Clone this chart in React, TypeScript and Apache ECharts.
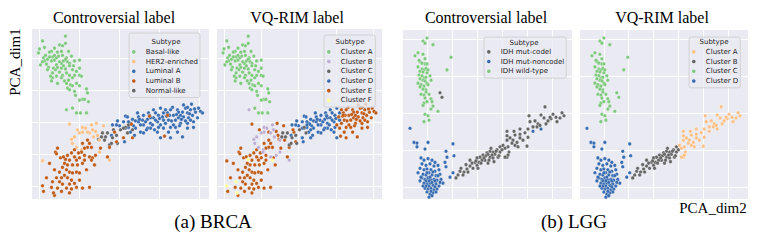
import React, { useEffect, useRef } from 'react';
import * as echarts from 'echarts';

type Pt = [number, number, number]; // [PCA_dim2, PCA_dim1, VQ-RIM cluster index]

// ---------------- BRCA ----------------
const brcaControversialLabels = ['Basal-like', 'HER2-enriched', 'Luminal A', 'Luminal B', 'Normal-like'];
const brcaVqLabels = ['Cluster A', 'Cluster B', 'Cluster C', 'Cluster D', 'Cluster E', 'Cluster F'];

const brcaBasal: Pt[] = [
  [-7.7, 10.2, 0], [-5.4, 10.8, 0], [-5.4, 9.9, 0], [-6.0, 9.7, 0], [-5.7, 9.6, 0], [-5.8, 8.9, 0], [-5.1, 8.9, 0],
  [-8.1, 8.7, 0], [-6.8, 8.9, 0], [-7.0, 8.8, 0], [-7.6, 8.1, 0], [-7.2, 7.9, 0], [-6.7, 8.2, 0], [-6.3, 8.1, 0],
  [-6.1, 8.3, 0], [-5.7, 8.4, 0], [-5.3, 8.1, 0], [-4.8, 8.3, 0], [-4.0, 7.8, 0], [-7.9, 7.2, 0], [-7.5, 7.7, 0],
  [-7.3, 7.3, 0], [-6.8, 7.7, 0], [-6.5, 7.8, 0], [-6.3, 7.2, 0], [-5.8, 7.4, 0], [-5.6, 7.7, 0], [-5.2, 7.6, 0],
  [-5.0, 7.4, 0], [-4.5, 7.7, 0], [-6.6, 6.8, 0], [-6.2, 6.9, 0], [-5.8, 6.8, 0], [-5.4, 6.7, 0], [-4.7, 6.6, 0],
  [-4.3, 6.4, 0], [-4.0, 6.8, 0], [-6.7, 6.2, 0], [-6.0, 6.3, 0], [-5.7, 5.9, 0], [-5.3, 6.2, 0], [-5.0, 5.9, 0],
  [-4.5, 5.9, 0], [-4.0, 5.9, 0], [-3.8, 5.8, 0], [-6.7, 5.6, 0], [-6.3, 5.8, 0], [-5.8, 5.6, 0], [-5.5, 5.2, 0],
  [-5.1, 5.3, 0], [-4.7, 5.6, 0], [-6.8, 5.2, 0], [-6.2, 4.9, 0], [-5.3, 4.9, 0], [-4.9, 4.7, 0], [-4.7, 4.6, 0],
  [-5.2, 4.3, 0], [-4.3, 4.9, 0], [-4.0, 4.6, 0], [-5.0, 4.1, 0], [-4.5, 3.9, 0], [-3.3, 4.2, 0], [-3.2, 3.7, 0],
  [-3.7, 2.9, 0], [-3.1, 2.6, 0], [-4.7, 1.8, 0], [-5.3, 1.6, 1], [-4.4, 3.4, 0], [-4.3, 1.2, 0], [-3.9, 1.2, 0],
  [-3.3, 1.2, 0], [-4.0, 2.8, 0], [-3.5, 2.9, 0], [-7.4, 8.4, 0], [-7.0, 8.2, 0], [-6.5, 8.4, 0], [-7.7, 7.6, 0],
  [-7.1, 6.9, 0], [-6.4, 6.6, 0], [-6.0, 7.6, 0], [-5.6, 7.1, 0], [-5.4, 7.9, 0], [-6.2, 8.8, 0], [-6.5, 9.3, 0],
  [-5.0, 7.1, 0], [-4.6, 7.1, 0], [-7.2, 6.6, 0], [-6.9, 5.8, 0], [-8.0, 9.2, 0], [-7.5, 9.4, 0],
];

const brcaHer2: Pt[] = [
  [-5.0, -0.2, 4], [-3.7, -0.6, 1], [-2.8, -0.3, 1], [-2.3, -0.1, 4], [-4.0, -1.3, 1], [-3.7, -1.2, 1],
  [-4.8, -2.1, 1], [-4.7, -2.6, 1], [-2.7, -0.9, 1], [-3.0, -1.3, 1], [-1.0, -4.7, 1], [-7.7, -4.8, 4],
  [-4.5, -1.8, 1], [-3.2, -1.2, 4], [-3.8, -3.4, 1], [-4.3, -3.1, 1], [-3.4, -0.7, 1], [-2.4, -1.1, 4],
  [-2.0, -2.2, 1], [-2.6, -1.8, 1], [-4.2, -0.9, 4], [-1.6, -0.4, 4], [-2.0, -3.7, 1], [-2.2, -1.6, 4],
];

const brcaLumA: Pt[] = [
  [0.6, 0.8, 3], [1.1, -0.1, 3], [1.6, 0.2, 3], [1.9, 0.1, 3], [2.3, 0.3, 3], [2.4, -0.3, 3], [2.8, 0.4, 3],
  [3.1, -0.1, 3], [3.4, 0.6, 3], [3.8, 0.1, 3], [3.9, 0.9, 3], [4.1, -0.3, 4], [4.4, 0.3, 3], [4.8, 1.2, 4],
  [4.9, 0.3, 4], [5.1, -0.6, 4], [5.4, 0.9, 4], [5.8, 1.6, 4], [5.9, 0.6, 4], [6.3, 1.3, 4], [6.4, 0.7, 4],
  [6.6, 1.8, 4], [6.8, 1.2, 4], [6.9, 0.6, 4], [7.1, 1.6, 4], [7.3, 0.9, 4], [7.6, 1.3, 4], [8.1, 1.4, 4],
  [6.8, -0.7, 4], [5.8, -1.2, 4], [5.1, -1.9, 4], [4.9, -1.2, 4], [3.8, -1.2, 3], [3.1, -0.7, 3], [2.1, -1.2, 3],
  [1.6, -0.7, 3], [1.1, -1.2, 3], [0.6, -0.7, 3], [0.0, -0.4, 3], [0.4, 0.1, 3], [-0.3, -0.3, 3], [-0.7, -0.3, 3],
  [-0.8, -1.6, 3], [0.5, -2.4, 3], [2.4, -1.3, 3], [2.8, -0.7, 3], [3.3, -0.3, 3], [4.4, -0.7, 4], [5.6, -0.6, 4],
  [6.1, -0.1, 4], [7.4, 0.1, 4], [7.8, 0.6, 4], [8.3, 1.2, 4], [3.4, 1.6, 3], [2.9, 1.2, 3], [4.1, 1.8, 3],
  [2.4, 0.9, 3], [1.9, 0.7, 3], [1.3, 0.4, 3], [0.9, 0.1, 3], [4.6, 1.6, 4], [5.3, 1.9, 4], [6.1, 0.9, 4],
  [6.8, -0.1, 4], [4.1, -1.9, 3], [2.6, 0.1, 3], [3.6, 0.3, 3], [4.3, 0.7, 4], [5.2, 0.2, 4], [5.6, 0.3, 4],
  [6.6, 0.2, 4], [7.1, 0.3, 4], [7.5, 1.7, 4], [7.9, 1.8, 4], [7.2, 2.3, 4], [6.4, 2.2, 4], [5.9, 1.3, 4],
  [5.4, -0.3, 4], [4.6, -0.1, 4], [3.9, -0.6, 3], [3.1, 0.6, 3], [2.1, -0.3, 3], [1.8, 1.2, 3], [0.9, -0.6, 3],
  [-0.2, 0.2, 3], [0.8, 0.7, 3], [6.3, -1.8, 4], [7.4, -0.6, 4], [6.8, 1.9, 4], [3.6, 1.2, 3], [4.4, 1.2, 3],
  [5.1, 1.6, 4], [1.4, -0.4, 3], [2.7, -0.9, 3], [3.5, -0.9, 3], [4.7, 0.8, 4], [5.7, 1.0, 4], [6.2, 0.4, 4],
  [7.0, 1.1, 4], [3.0, 0.9, 3], [2.0, 0.4, 3], [4.0, 0.5, 3], [5.0, 0.9, 4], [6.0, -0.4, 4], [1.5, -1.6, 3],
];

const brcaLumB: Pt[] = [
  [-3.0, -2.6, 4], [-3.2, -3.1, 4], [-3.5, -3.2, 4], [-3.8, -3.7, 1], [-4.1, -3.8, 4], [-3.5, -4.1, 4],
  [-3.0, -4.3, 1], [-2.7, -4.4, 4], [-6.4, -3.7, 4], [-6.3, -3.9, 4], [-5.2, -4.1, 4], [-4.8, -3.8, 4],
  [-4.5, -4.3, 4], [-4.3, -4.7, 4], [-5.0, -4.7, 4], [-5.5, -5.1, 4], [-5.7, -5.6, 4], [-5.2, -5.3, 4],
  [-4.7, -5.3, 4], [-4.2, -5.3, 4], [-3.7, -5.1, 4], [-3.5, -4.7, 4], [-7.0, -5.1, 4], [-6.5, -5.9, 4],
  [-6.0, -6.2, 4], [-5.3, -5.9, 4], [-5.0, -6.2, 4], [-4.7, -6.3, 4], [-4.3, -6.2, 4], [-4.0, -6.3, 4],
  [-5.5, -6.6, 4], [-5.8, -6.9, 4], [-5.2, -6.9, 4], [-4.8, -7.2, 4], [-6.3, -6.9, 4], [-6.7, -7.4, 5],
  [-6.0, -7.4, 4], [-5.7, -7.7, 4], [-5.0, -7.7, 4], [-4.5, -7.6, 4], [-6.8, -8.1, 4], [-6.2, -8.2, 4],
  [-5.3, -8.2, 4], [-4.8, -8.3, 4], [-7.6, -8.6, 4], [-7.7, -7.9, 5], [-6.5, -9.1, 4], [-5.8, -8.6, 4],
  [-3.7, -8.2, 4], [-4.0, -7.2, 4], [-3.0, -8.1, 4], [-6.6, -8.8, 5], [-5.0, -8.8, 4], [-4.3, -8.1, 4],
  [-6.2, -3.2, 4], [-5.9, -4.4, 4], [-3.7, -2.6, 4], [-3.2, -2.2, 4], [-2.8, -3.1, 4], [-2.4, -4.1, 1],
  [-5.4, -4.6, 5], [-2.8, -4.7, 5], [-1.2, -4.3, 4], [-1.0, -3.1, 4], [-0.3, -2.4, 4], [3.0, 0.8, 3],
  [4.8, 0.9, 4], [4.5, -1.7, 4], [1.3, -1.9, 3], [-0.5, -1.2, 4], [0.4, -1.9, 3], [1.2, -0.2, 3],
  [-7.3, -6.9, 4], [-5.6, -4.3, 4], [-4.5, -3.4, 4], [-4.0, -4.4, 4], [-3.3, -5.9, 4], [-2.5, -5.3, 4],
  [-1.9, -3.2, 4],
];

const brcaNormal: Pt[] = [
  [-1.7, -1.3, 2], [-1.4, -1.8, 2], [-1.2, -1.3, 2], [-0.7, -1.9, 2], [-0.3, -1.6, 2], [-0.2, -2.6, 2],
  [0.6, -0.6, 2], [0.9, -0.3, 3], [-2.1, -2.1, 4], [-1.0, -2.8, 2], [-0.6, -0.9, 4], [0.8, -1.3, 2],
  [1.3, -0.9, 3], [-1.8, -1.8, 2], [-1.5, -2.2, 4], [-0.8, -2.6, 2], [0.1, -0.9, 2], [0.4, -0.7, 3],
];

// ---------------- LGG ----------------
const lggControversialLabels = ['IDH mut-codel', 'IDH mut-noncodel', 'IDH wild-type'];
const lggVqLabels = ['Cluster A', 'Cluster B', 'Cluster C', 'Cluster D'];

const lggCodel: Pt[] = [
  [13.6, 0.9, 0], [10.4, -0.3, 0], [13.4, -0.6, 0], [14.8, -0.7, 0], [15.8, -0.5, 0], [17.4, -0.3, 0],
  [16.0, -1.1, 0], [12.2, -1.4, 0], [12.0, -1.8, 0], [11.2, -1.8, 0], [10.2, -2.1, 0], [9.6, -2.6, 0],
  [8.6, -2.8, 0], [7.6, -2.9, 0], [6.0, -2.4, 0], [6.0, -3.0, 0], [6.6, -3.3, 0], [7.2, -3.6, 0],
  [7.0, -4.0, 0], [8.0, -3.9, 0], [9.2, -3.6, 0], [10.2, -3.2, 0], [10.0, -4.4, 0], [6.0, -3.6, 0],
  [5.2, -4.3, 0], [4.6, -4.5, 1], [4.0, -4.9, 1], [3.2, -5.2, 1], [2.6, -5.1, 1], [2.0, -5.3, 1],
  [1.2, -5.6, 1], [0.6, -5.9, 1], [0.0, -6.0, 1], [-0.4, -6.6, 1], [-1.0, -6.7, 1], [-1.4, -7.1, 1],
  [1.6, -6.3, 1], [2.6, -5.9, 1], [3.2, -6.0, 1], [2.2, -6.7, 1], [6.0, -5.9, 0], [4.2, -5.9, 1],
  [6.4, -5.2, 0], [7.6, -4.3, 0], [0.0, -7.0, 1], [-0.8, -7.4, 1], [-2.0, -7.5, 1], [-2.6, -7.9, 1],
  [-3.4, -7.8, 1], [-3.8, -8.3, 1], [-4.2, -8.7, 1], [1.0, -6.3, 1], [1.8, -5.7, 1], [3.6, -5.5, 1],
  [4.6, -5.2, 1], [5.6, -4.7, 0], [8.6, -3.3, 0], [12.6, -1.6, 0], [14.2, -1.0, 0], [15.2, -0.1, 0],
  [16.6, -0.6, 0], [17.0, 0.1, 0], [14.6, -0.5, 0], [6.2, -4.5, 0], [6.2, -5.6, 0], [5.6, -5.9, 0],
  [-2.8, -8.3, 1], [-1.8, -7.9, 1], [0.4, -6.6, 1], [2.8, -4.7, 1], [-1.4, -6.3, 1], [-0.2, -6.4, 1],
  [0.8, -6.7, 1], [1.4, -6.0, 1], [2.2, -5.5, 1], [3.0, -5.6, 1], [3.8, -5.1, 1], [4.4, -5.7, 1],
  [5.0, -4.9, 1], [-2.2, -6.9, 1], [-3.2, -7.4, 1], [0.2, -7.4, 1], [2.4, -6.3, 1], [3.4, -6.5, 1],
  [10.6, -1.1, 0], [11.6, -1.0, 0], [12.8, -0.2, 0], [13.8, -1.4, 0], [8.6, -2.1, 0], [7.4, -2.4, 0],
  [8.2, -4.5, 0], [-7.4, 2.8, 2], [-7.0, 2.2, 2],
];

const lggNoncodel: Pt[] = [
  [-11.2, -6.0, 3], [-10.6, -6.3, 3], [-9.8, -6.1, 3], [-9.0, -6.3, 3], [-8.4, -6.6, 3], [-11.0, -6.8, 3],
  [-10.2, -7.0, 3], [-9.4, -6.8, 3], [-8.6, -7.1, 3], [-7.8, -7.0, 3], [-11.4, -7.4, 3], [-10.6, -7.6, 3],
  [-10.0, -7.5, 3], [-9.2, -7.6, 3], [-8.4, -7.8, 3], [-7.6, -7.6, 3], [-10.8, -8.2, 3], [-10.2, -8.3, 3],
  [-9.6, -8.0, 3], [-9.0, -8.3, 3], [-8.2, -8.4, 3], [-7.4, -8.2, 3], [-11.0, -8.7, 3], [-10.4, -8.9, 3],
  [-9.8, -8.7, 3], [-9.2, -9.0, 3], [-8.6, -8.9, 3], [-8.0, -9.0, 3], [-10.6, -9.4, 3], [-10.0, -9.5, 3],
  [-9.4, -9.4, 3], [-8.8, -9.7, 3], [-8.2, -9.5, 3], [-7.6, -9.8, 3], [-10.4, -10.1, 3], [-9.8, -10.2, 3],
  [-9.2, -10.1, 3], [-8.6, -10.3, 3], [-8.0, -10.2, 3], [-10.0, -10.6, 3], [-9.4, -10.9, 3], [-8.8, -10.7, 3],
  [-8.2, -10.6, 3], [-9.6, -11.3, 3], [-9.0, -11.1, 3], [-10.2, -9.1, 3], [-9.6, -9.8, 3], [-9.0, -9.3, 3],
  [-8.4, -9.9, 3], [-9.4, -8.6, 3], [-8.8, -7.9, 3], [-10.0, -8.0, 3], [-7.2, -8.9, 3], [-6.8, -9.4, 3],
  [-11.8, -8.0, 3], [-11.4, -9.1, 3], [-9.6, -9.1, 3], [-8.4, -9.1, 3], [-10.2, -9.8, 3], [-9.2, -10.5, 3],
  [-10.8, -9.8, 3], [-7.4, -9.3, 3], [-11.2, -8.6, 3], [-7.8, -8.4, 3],
  [-13.4, -2.0, 3], [-12.6, -3.9, 3], [-12.0, -4.0, 3], [-12.0, -4.5, 3], [-9.8, -3.9, 3], [-10.4, -4.8, 3],
  [-4.8, -4.1, 3], [-6.2, -5.1, 3], [-4.6, -5.7, 3], [-6.0, -5.9, 3], [-6.2, -7.2, 3], [-6.4, -6.6, 3],
  [-4.8, -8.0, 3], [-5.4, -8.6, 3], [11.2, -2.4, 0], [12.8, -2.1, 0],
];

const lggWild: Pt[] = [
  [-10.0, 10.2, 2], [-10.8, 9.8, 2], [-10.4, 9.5, 2], [-8.8, 9.3, 2], [-11.8, 8.2, 2], [-10.8, 8.0, 2],
  [-12.4, 7.8, 2], [-5.2, 7.6, 2], [-11.4, 7.0, 2], [-11.0, 6.8, 2], [-10.4, 6.7, 2], [-10.0, 6.7, 2],
  [-11.8, 6.3, 2], [-11.0, 6.0, 2], [-10.6, 5.9, 2], [-10.2, 6.1, 2], [-11.4, 5.7, 2], [-10.8, 5.6, 2],
  [-10.0, 5.5, 2], [-6.0, 5.9, 2], [-11.6, 5.2, 2], [-11.0, 5.1, 2], [-10.6, 4.8, 2], [-10.2, 4.9, 2],
  [-9.4, 5.1, 2], [-10.8, 4.5, 2], [-10.4, 4.4, 2], [-9.2, 4.5, 2], [-11.8, 4.1, 2], [-11.2, 3.9, 2],
  [-10.6, 3.7, 2], [-10.0, 4.1, 2], [-11.4, 3.6, 2], [-10.8, 3.3, 2], [-10.2, 3.2, 2], [-9.8, 3.9, 2],
  [-11.2, 2.6, 2], [-10.6, 2.5, 2], [-9.6, 2.6, 2], [-10.4, 2.1, 2], [-9.2, 2.0, 2], [-10.6, 1.4, 2],
  [-10.0, 1.6, 2], [-9.0, 1.6, 2], [-10.8, 1.1, 2], [-8.8, 1.0, 2], [-9.2, 0.6, 2], [-7.8, 0.3, 2],
  [-10.4, -0.1, 2], [-9.8, -0.3, 2], [-9.6, -0.9, 2], [-10.6, -1.1, 2], [-11.6, 7.2, 2], [-10.4, 7.4, 2],
  [-9.8, 5.9, 2], [-11.4, 4.7, 2], [-10.2, 2.9, 2],
];

// palette (matplotlib "Accent")
const brcaControversialColors = ['#7fc97f', '#fdc086', '#386cb0', '#bf5b17', '#666666'];
const brcaVqColors = ['#7fc97f', '#beaed4', '#666666', '#386cb0', '#bf5b17', '#ffff99'];
const lggControversialColors = ['#666666', '#386cb0', '#7fc97f'];
const lggVqColors = ['#fdc086', '#666666', '#7fc97f', '#386cb0'];

const SERIF = 'Liberation Serif';
const SANS = 'DejaVu Sans';

export default function App() {
  const ref = useRef<HTMLDivElement>(null);

  useEffect(() => {
    const chart = echarts.init(ref.current!, undefined, { renderer: 'svg' });

    const brcaGroups = [brcaBasal, brcaHer2, brcaLumA, brcaLumB, brcaNormal];
    const brcaAll = brcaGroups.flatMap((g) => g);
    const lggGroups = [lggCodel, lggNoncodel, lggWild];
    const lggAll = lggGroups.flatMap((g) => g);

    const grids = [
      { left: 32, top: 29, width: 177, height: 170 },
      { left: 217, top: 29, width: 165, height: 170 },
      { left: 403, top: 30, width: 169, height: 169 },
      { left: 580, top: 30, width: 168, height: 169 },
    ].map((g) => ({ ...g, show: true, backgroundColor: '#EAEAF2', borderWidth: 0 }));

    const axis = (gridIndex: number, min: number, max: number, step: number) => ({
      type: 'value',
      gridIndex,
      min,
      max,
      minInterval: step,
      maxInterval: step,
      axisLine: { show: false },
      axisTick: { show: false },
      axisLabel: { show: false },
      splitLine: { show: true, showMinLine: false, showMaxLine: false, lineStyle: { color: '#ffffff', width: 1 } },
    });

    const xAxes = [
      axis(0, -8.75, 8.95, 4),
      axis(1, -8.75, 8.95, 4),
      axis(2, -14.8, 19, 5),
      axis(3, -14.8, 19, 5),
    ];
    const yAxes = [
      axis(0, -9.56, 11.69, 4),
      axis(1, -9.56, 11.69, 4),
      axis(2, -11.55, 11.28, 5),
      axis(3, -11.55, 11.28, 5),
    ];

    const mk = (name: string, idx: number, color: string, data: number[][]) => ({
      type: 'scatter',
      name,
      xAxisIndex: idx,
      yAxisIndex: idx,
      data,
      symbol: 'circle',
      symbolSize: 3.6,
      itemStyle: { color, borderColor: '#ffffff', borderWidth: 0.3, opacity: 1 },
      emphasis: { disabled: true },
    });

    const series: any[] = [];
    [2, 4, 1, 3, 0].forEach((i) =>
      series.push(mk(brcaControversialLabels[i], 0, brcaControversialColors[i], brcaGroups[i].map((p) => [p[0], p[1]])))
    );
    [3, 4, 2, 1, 0, 5].forEach((j) =>
      series.push(
        mk('BRCA|' + brcaVqLabels[j], 1, brcaVqColors[j], brcaAll.filter((p) => p[2] === j).map((p) => [p[0], p[1]]))
      )
    );
    [1, 0, 2].forEach((i) =>
      series.push(mk(lggControversialLabels[i], 2, lggControversialColors[i], lggGroups[i].map((p) => [p[0], p[1]])))
    );
    [3, 1, 0, 2].forEach((j) =>
      series.push(
        mk('LGG|' + lggVqLabels[j], 3, lggVqColors[j], lggAll.filter((p) => p[2] === j).map((p) => [p[0], p[1]]))
      )
    );

    const legend = (names: string[], left: number, top: number, padTop: number) => ({
      data: names,
      left,
      top,
      z: 5,
      orient: 'vertical',
      icon: 'circle',
      itemWidth: 14,
      itemHeight: 3.6,
      itemGap: 0,
      selectedMode: false,
      padding: [padTop, 2, 2, 3],
      backgroundColor: 'rgba(234,234,242,0.8)',
      borderColor: '#cccccc',
      borderWidth: 0.8,
      borderRadius: 2,
      itemStyle: { borderWidth: 0, opacity: 1 },
      inactiveColor: '#cccccc',
      formatter: (n: string) => (n.indexOf('|') >= 0 ? n.split('|')[1] : n),
      textStyle: { fontSize: 7, fontFamily: SANS, color: '#262626', lineHeight: 9.7, padding: 0 },
    });

    const txt = (text: string, x: number, y: number, size: number, family: string, rotation = 0, color = '#000') => ({
      type: 'text',
      x,
      y,
      z: 100,
      zlevel: 0,
      rotation,
      silent: true,
      style: { text, fontSize: size, fontFamily: family, fill: color, align: 'center', verticalAlign: 'middle' },
    });

    const option: any = {
      animation: false,
      backgroundColor: '#ffffff',
      grid: grids,
      xAxis: xAxes,
      yAxis: yAxes,
      series,
      legend: [
        legend(brcaControversialLabels, 129, 33, 14),
        legend(brcaVqLabels.map((l) => 'BRCA|' + l), 324, 35, 12),
        legend(lggControversialLabels, 484, 37, 10),
        legend(lggVqLabels.map((l) => 'LGG|' + l), 689, 37, 10),
      ],
      graphic: {
        elements: [
          txt('Subtype', 166, 42, 7, SANS, 0, '#262626'),
          txt('Subtype', 350, 42, 7, SANS, 0, '#262626'),
          txt('Subtype', 524, 43, 7, SANS, 0, '#262626'),
          txt('Subtype', 714, 42, 7, SANS, 0, '#262626'),
          txt('Controversial label', 114, 17, 16, SERIF),
          txt('VQ-RIM label', 297, 17, 16, SERIF),
          txt('Controversial label', 486, 17, 16, SERIF),
          txt('VQ-RIM label', 662, 17, 16, SERIF),
          txt('PCA_dim1', 15, 62, 15, SERIF, Math.PI / 2),
          txt('PCA_dim2', 713, 208, 15, SERIF),
          txt('(a) BRCA', 213, 221, 19, SERIF),
          txt('(b) LGG', 574, 221, 19, SERIF),
        ],
      },
    };

    chart.setOption(option);
    return () => chart.dispose();
  }, []);

  return (
    <div
      ref={ref}
      style={{ position: 'fixed', left: 0, top: 0, width: 772, height: 243, background: '#ffffff' }}
    />
  );
}
